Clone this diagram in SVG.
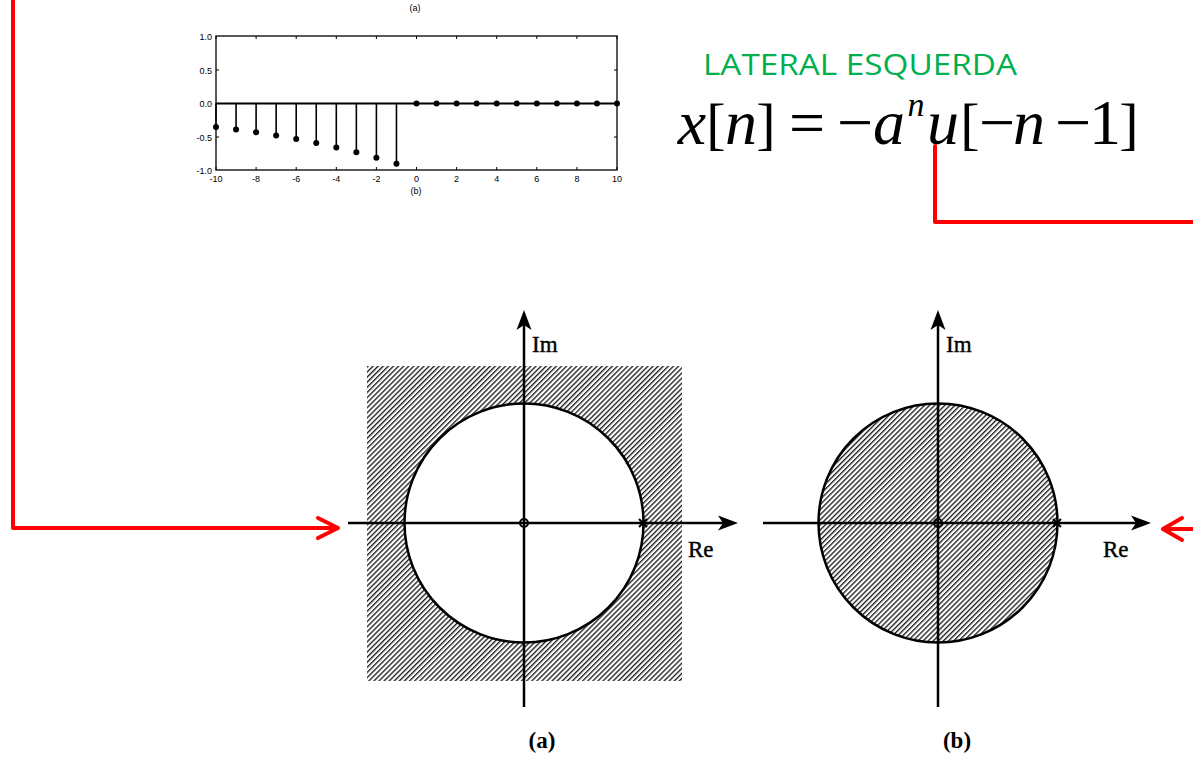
<svg xmlns="http://www.w3.org/2000/svg" width="1193" height="759" viewBox="0 0 1193 759">
<style>
.ax{stroke:#000;stroke-width:2.5;fill:none}
.tick{font-family:"Liberation Sans",Arial,sans-serif;font-size:9px;fill:#000}
.eq{font-family:"Liberation Serif","Times New Roman",serif;fill:#000}
.it{font-style:italic}
.lbl{font-family:"Liberation Serif","Times New Roman",serif;font-size:23px;fill:#000;stroke:#000;stroke-width:0.4}
.cap{font-family:"Liberation Serif","Times New Roman",serif;font-size:23px;font-weight:bold;fill:#000}
.red{stroke:#ff0000;stroke-width:4;fill:none;stroke-linecap:round;stroke-linejoin:round}
.stem{stroke:#000;stroke-width:1.6}
</style>
<defs>
<pattern id="hatch" patternUnits="userSpaceOnUse" width="3.6" height="3.6" patternTransform="rotate(45)">
<rect width="3.6" height="3.6" fill="#fff"/>
<line x1="0.7" y1="0" x2="0.7" y2="3.6" stroke="#000" stroke-width="1.2"/>
</pattern>
</defs>
<rect width="1193" height="759" fill="#fff"/>

<g id="stem-plot">
<text class="tick" x="415" y="11" text-anchor="middle" font-size="8">(a)</text>
<rect x="216" y="36" width="401" height="134" fill="none" stroke="#000" stroke-width="1.3"/>
<g stroke="#000" stroke-width="1">
<path d="M216,36v3M256.1,36v3M296.2,36v3M336.3,36v3M376.4,36v3M416.5,36v3M456.6,36v3M496.7,36v3M536.8,36v3M576.9,36v3M617,36v3"/>
<path d="M216,170v-3M256.1,170v-3M296.2,170v-3M336.3,170v-3M376.4,170v-3M416.5,170v-3M456.6,170v-3M496.7,170v-3M536.8,170v-3M576.9,170v-3M617,170v-3"/>
<path d="M216,70h3M216,103.5h3M216,137h3M614,70h3M614,103.5h3M614,137h3"/>
</g>
<line x1="216" y1="103.5" x2="617" y2="103.5" stroke="#000" stroke-width="2"/>
<g class="stem">
<line x1="396.45" y1="103.5" x2="396.45" y2="163.8"/>
<line x1="376.4" y1="103.5" x2="376.4" y2="157.8"/>
<line x1="356.35" y1="103.5" x2="356.35" y2="152.3"/>
<line x1="336.3" y1="103.5" x2="336.3" y2="147.5"/>
<line x1="316.25" y1="103.5" x2="316.25" y2="143.1"/>
<line x1="296.2" y1="103.5" x2="296.2" y2="139.1"/>
<line x1="276.15" y1="103.5" x2="276.15" y2="135.5"/>
<line x1="256.1" y1="103.5" x2="256.1" y2="132.3"/>
<line x1="236.05" y1="103.5" x2="236.05" y2="129.5"/>
<line x1="216" y1="103.5" x2="216" y2="126.9"/>
</g>
<g fill="#000">
<circle cx="396.45" cy="163.8" r="3"/><circle cx="376.4" cy="157.8" r="3"/><circle cx="356.35" cy="152.3" r="3"/>
<circle cx="336.3" cy="147.5" r="3"/><circle cx="316.25" cy="143.1" r="3"/><circle cx="296.2" cy="139.1" r="3"/>
<circle cx="276.15" cy="135.5" r="3"/><circle cx="256.1" cy="132.3" r="3"/><circle cx="236.05" cy="129.5" r="3"/>
<circle cx="216" cy="126.9" r="3"/>
<circle cx="416.5" cy="103.5" r="3"/><circle cx="436.55" cy="103.5" r="3"/><circle cx="456.6" cy="103.5" r="3"/>
<circle cx="476.65" cy="103.5" r="3"/><circle cx="496.7" cy="103.5" r="3"/><circle cx="516.75" cy="103.5" r="3"/>
<circle cx="536.8" cy="103.5" r="3"/><circle cx="556.85" cy="103.5" r="3"/><circle cx="576.9" cy="103.5" r="3"/>
<circle cx="596.95" cy="103.5" r="3"/><circle cx="617" cy="103.5" r="3"/>
</g>
<g class="tick" text-anchor="end">
<text x="212" y="39.5">1.0</text>
<text x="212" y="73.5">0.5</text>
<text x="212" y="107">0.0</text>
<text x="212" y="140.5">-0.5</text>
<text x="212" y="173.5">-1.0</text>
</g>
<g class="tick" text-anchor="middle">
<text x="216" y="182">-10</text>
<text x="256.1" y="182">-8</text>
<text x="296.2" y="182">-6</text>
<text x="336.3" y="182">-4</text>
<text x="376.4" y="182">-2</text>
<text x="416.5" y="182">0</text>
<text x="456.6" y="182">2</text>
<text x="496.7" y="182">4</text>
<text x="536.8" y="182">6</text>
<text x="576.9" y="182">8</text>
<text x="617" y="182">10</text>
</g>
<text class="tick" x="416" y="194" text-anchor="middle" font-size="8">(b)</text>
</g>

<g id="title">
<text x="703" y="75" font-family="'Open Sans','Noto Sans',sans-serif" font-size="29" fill="#00b050" textLength="314" lengthAdjust="spacingAndGlyphs">LATERAL ESQUERDA</text>
</g>

<g id="equation" class="eq" text-anchor="middle">
<text class="it" x="692" y="144" font-size="64">x</text>
<text x="716" y="143" font-size="58">[</text>
<text class="it" x="741" y="144" font-size="64">n</text>
<text x="766" y="143" font-size="58">]</text>
<text x="807" y="144" font-size="64">=</text>
<text x="855" y="144" font-size="64">−</text>
<text class="it" x="889" y="144" font-size="64">a</text>
<text class="it" x="916" y="116" font-size="34">n</text>
<text class="it" x="943" y="144" font-size="64">u</text>
<text x="970" y="143" font-size="58">[</text>
<text x="997" y="144" font-size="64">−</text>
<text class="it" x="1029" y="144" font-size="64">n</text>
<text x="1073" y="144" font-size="64">−</text>
<text x="1105" y="144" font-size="64">1</text>
<text x="1129" y="143" font-size="58">]</text>
</g>

<g id="plot-a">
<rect x="367" y="366" width="315" height="315" fill="url(#hatch)"/>
<circle cx="524" cy="523" r="119.5" fill="#fff" stroke="#000" stroke-width="2.5"/>
<line class="ax" x1="348" y1="523" x2="725" y2="523"/>
<line class="ax" x1="524" y1="707" x2="524" y2="322"/>
<path d="M738,523 L718,515.5 L723,523 L718,530.5 Z" fill="#000"/>
<path d="M524,310 L516.5,330 L524,325 L531.5,330 Z" fill="#000"/>
<circle cx="524" cy="523" r="4" fill="none" stroke="#000" stroke-width="2"/>
<path d="M639,519 L647,527 M647,519 L639,527" stroke="#000" stroke-width="2"/>
<text class="lbl" x="532" y="352">Im</text>
<text class="lbl" x="688" y="557">Re</text>
<text class="cap" x="542" y="748" text-anchor="middle">(a)</text>
</g>

<g id="plot-b">
<circle cx="938" cy="523" r="119.5" fill="url(#hatch)" stroke="#000" stroke-width="2.5"/>
<line class="ax" x1="763" y1="523" x2="1138" y2="523"/>
<line class="ax" x1="938" y1="707" x2="938" y2="322"/>
<path d="M1151,523 L1131,515.5 L1136,523 L1131,530.5 Z" fill="#000"/>
<path d="M938,310 L930.5,330 L938,325 L945.5,330 Z" fill="#000"/>
<circle cx="938" cy="523" r="4" fill="none" stroke="#000" stroke-width="2"/>
<path d="M1053,519 L1061,527 M1061,519 L1053,527" stroke="#000" stroke-width="2"/>
<text class="lbl" x="946" y="352">Im</text>
<text class="lbl" x="1103" y="557">Re</text>
<text class="cap" x="957" y="748" text-anchor="middle">(b)</text>
</g>

<g id="connectors">
<path class="red" d="M13,-5 V528 H335"/>
<path class="red" d="M318,518 L338,528 L318,538"/>
<path class="red" d="M935,146 V222 H1198"/>
<path class="red" d="M1166,529 H1198"/>
<path class="red" d="M1182,518 L1163,529 L1182,540"/>
</g>
</svg>
